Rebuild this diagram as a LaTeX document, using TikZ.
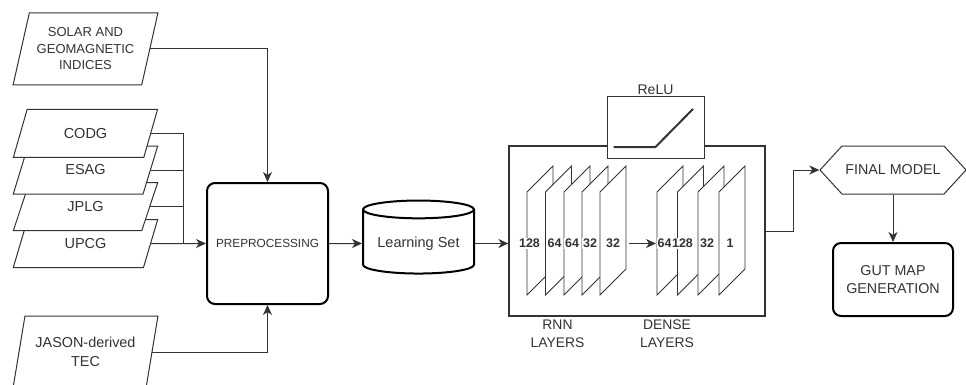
\documentclass[tikz,border=0pt]{standalone}
\usepackage{fontspec}
\setmainfont{Liberation Sans}
\usepackage{tikz}
\usetikzlibrary{positioning,calc,arrows.meta,shapes.geometric,shapes.symbols}

\definecolor{ink}{HTML}{333333}

\tikzset{
  base/.style={color=ink, font=\fontsize{14.3}{18}\selectfont, line width=1pt},
  wire/.style={draw=ink, line width=1pt},
  flow/.style={wire, -{Stealth[length=10pt,width=9pt,inset=3pt]}},
  source/.style={base, draw, fill=white, align=center, trapezium, trapezium stretches=true,
    trapezium left angle=71.57, trapezium right angle=108.43,
    minimum width=145pt, minimum height=72pt, inner sep=0pt},
  tecmap/.style={base, draw, fill=white, align=center, trapezium, trapezium stretches=true,
    trapezium left angle=63.43, trapezium right angle=116.57,
    minimum width=145pt, minimum height=48pt, inner sep=0pt, font=\fontsize{14.5}{17}\selectfont},
  block/.style={base, draw=black, fill=white, align=center, rounded corners=8pt, line width=2pt},
  layer/.style={draw=ink, fill=white, line width=0.9pt},
  units/.style={color=ink, fill=white, inner sep=0.7pt, font=\bfseries\fontsize{12.5}{15}\selectfont},
}

\begin{document}
\begin{tikzpicture}[x=1pt, y=-1pt]
    \useasboundingbox (0,0) rectangle (966,385);

    \node[source, font=\fontsize{13}{16.5}\selectfont] (solar) at (85.5,49) {SOLAR AND\\GEOMAGNETIC\\INDICES};
    \node[tecmap] (upcg) at (85.5,243.5) {UPCG};
    \node[tecmap] (jplg) at (85.5,206.7) {JPLG};
    \node[tecmap] (esag) at (85.5,170) {ESAG};
    \node[tecmap] (codg) at (85.5,133.3) {CODG};
    \node[source, font=\fontsize{14.4}{19}\selectfont] (jason) at (85.5,352) {JASON-derived\\TEC};

    \node[block, minimum width=121pt, minimum height=121pt, font=\fontsize{11.8}{14}\selectfont] (prep) at (267.5,243.5) {PREPROCESSING};
    \node[base, draw=black, line width=2pt, fill=white, cylinder, shape border rotate=90, aspect=0.2,
      minimum width=111pt, minimum height=73pt, font=\fontsize{14.5}{17}\selectfont] (lset) at (418.5,243.5) {Learning Set};

    \coordinate (bus) at (183,243.5);
    \draw[wire] (codg.east) -| (bus);
    \draw[wire] (esag.east) -- (esag.east -| bus);
    \draw[wire] (jplg.east) -- (jplg.east -| bus);
    \draw[flow] (upcg.east) -- (prep.west);
    \draw[flow] (solar.east) -| (prep.north);
    \draw[flow] (jason.east) -| (prep.south);
    \draw[flow] (prep.east) -- (lset.west);

    \node[base, draw, line width=1.2pt, minimum width=256pt, minimum height=170pt] (net) at (637,231) {};
    \node[base, draw, fill=white, minimum width=97pt, minimum height=61pt] (relu) at (655.5,127.5) {};
    \node[base, above=1pt of relu, inner sep=0pt, font=\fontsize{14}{16}\selectfont] (relulabel) {ReLU};
    \draw[ink, line width=2pt] ($(relu.center)+(-42,19.5)$) -- ($(relu.center)+(0,19.5)$) -- ($(relu.center)+(37.5,-18.5)$);

    \draw[flow] (lset.east) -- (lset.east -| net.west);

    \draw[layer] (527,192) -- ++(0,103) -- ++(26,-26) -- ++(0,-103) -- cycle;
    \draw[layer] (545.5,192) -- ++(0,103) -- ++(26,-26) -- ++(0,-103) -- cycle;
    \draw[layer] (564,192) -- ++(0,103) -- ++(26,-26) -- ++(0,-103) -- cycle;
    \draw[layer] (582,192) -- ++(0,103) -- ++(26,-26) -- ++(0,-103) -- cycle;
    \draw[layer] (600,192) -- ++(0,103) -- ++(26,-26) -- ++(0,-103) -- cycle;
    \draw[layer] (657,192) -- ++(0,103) -- ++(26,-26) -- ++(0,-103) -- cycle;
    \draw[layer] (677.5,192) -- ++(0,103) -- ++(26,-26) -- ++(0,-103) -- cycle;
    \draw[layer] (698,192) -- ++(0,103) -- ++(26,-26) -- ++(0,-103) -- cycle;
    \draw[layer] (719,192) -- ++(0,103) -- ++(26,-26) -- ++(0,-103) -- cycle;

    \node[units] (r1) at (529.5,243.5) {128};
    \node[units] (r2) at (554.5,243.5) {64};
    \node[units] (r3) at (572,243.5) {64};
    \node[units] (r4) at (590,243.5) {32};
    \node[units] (r5) at (613,243.5) {32};
    \node[units] (d1) at (664.5,243.5) {64};
    \node[units] (d2) at (682.5,243.5) {128};
    \node[units] (d3) at (707,243.5) {32};
    \node[units] (d4) at (730,243.5) {1};

    \coordinate (rnnout) at (629,243.5);
    \coordinate (densein) at (656,243.5);
    \draw[flow] (rnnout) -- (densein);

    \node[base, align=center, font=\fontsize{13.9}{18}\selectfont] (rnn) at (557.5,334) {RNN\\LAYERS};
    \node[base, align=center, font=\fontsize{13.9}{18}\selectfont] (dense) at (667,334) {DENSE\\LAYERS};

    \node[base, draw, fill=white, signal, signal to=west and east, signal pointer angle=95,
      minimum width=146pt, minimum height=48pt, inner sep=0pt] (final) at (893,170) {FINAL MODEL};
    \node[block, minimum width=120pt, minimum height=73pt] (gut) at (893,279.5) {GUT MAP\\GENERATION};

    \draw[flow] (net.east) -- ++(28,0) |- (final.west);
    \draw[flow] (final.south) -- (gut.north);
\end{tikzpicture}
\end{document}
